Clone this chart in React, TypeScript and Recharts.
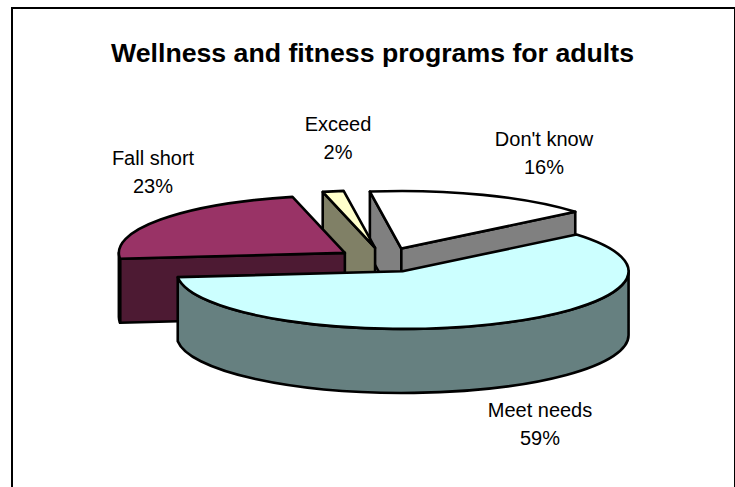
import { Pie, PieChart } from "recharts";

const categories = ["Don't know", "Meet needs", "Fall short", "Exceed"];
const shares = [16.2, 59.4, 22.9, 1.5];

// back slices first, so the big front slice covers their walls
const drawOrder = ["Don't know", "Exceed", "Fall short", "Meet needs"];

const topColors: Record<string, string> = {
  "Don't know": "#ffffff",
  "Meet needs": "#ccffff",
  "Fall short": "#993366",
  Exceed: "#ffffcc",
};
const wallColors: Record<string, string> = {
  "Don't know": "#808080",
  "Meet needs": "#668080",
  "Fall short": "#4d1a33",
  Exceed: "#808066",
};

// label centre, relative to the pie centre
const labelNudge: Record<string, [number, number]> = {
  "Don't know": [160, -114],
  "Meet needs": [156, 157],
  "Fall short": [-231, -95],
  Exceed: [-46, -129],
};

const data = categories.map((name, i) => ({ name, value: shares[i] }));

const TILT = 0.255;
const DEPTH = 64;
const EXPLODE = 48;
const LINE = { stroke: "#000000", strokeWidth: 2.6, strokeLinejoin: "round" as const };

const rad = (d: number) => (d * Math.PI) / 180;

type SliceProps = {
  cx?: number;
  cy?: number;
  outerRadius?: number;
  startAngle?: number;
  endAngle?: number;
  name?: string;
};

// the pie is flat in recharts, so squash each sector to an ellipse and extrude it
function Slice({ cx = 0, cy = 0, outerRadius = 0, startAngle = 0, endAngle = 0, name = "" }: SliceProps) {
  const t0 = 90 - startAngle;
  const t1 = 90 - endAngle;
  const mid = (t0 + t1) / 2;
  const ox = cx + EXPLODE * Math.sin(rad(mid));
  const oy = cy - EXPLODE * Math.cos(rad(mid)) * TILT;
  const rx = outerRadius;
  const ry = outerRadius * TILT;
  const at = (t: number) => `${ox + rx * Math.sin(rad(t))} ${oy - ry * Math.cos(rad(t))}`;
  const low = (t: number) => `${ox + rx * Math.sin(rad(t))} ${oy - ry * Math.cos(rad(t)) + DEPTH}`;
  const wall = (t: number) => `M${ox} ${oy}L${at(t)}L${low(t)}L${ox} ${oy + DEPTH}Z`;

  const frontFrom = Math.max(t0, 90);
  const frontTo = Math.min(t1, 270);
  const side = wallColors[name];

  return (
    <g>
      {Math.sin(rad(t0)) < 0 && <path d={wall(t0)} fill={side} {...LINE} />}
      {Math.sin(rad(t1)) > 0 && <path d={wall(t1)} fill={side} {...LINE} />}
      {frontFrom < frontTo && (
        <path
          d={`M${at(frontFrom)}A${rx} ${ry} 0 0 1 ${at(frontTo)}L${low(frontTo)}A${rx} ${ry} 0 0 0 ${low(frontFrom)}Z`}
          fill={side}
          {...LINE}
        />
      )}
      <path
        d={`M${ox} ${oy}L${at(t0)}A${rx} ${ry} 0 ${t1 - t0 > 180 ? 1 : 0} 1 ${at(t1)}Z`}
        fill={topColors[name]}
        {...LINE}
      />
    </g>
  );
}

function SliceLabel({ cx = 0, cy = 0, name = "", value = 0 }: { cx?: number; cy?: number; name?: string; value?: number }) {
  const [dx, dy] = labelNudge[name];
  return (
    <text x={cx + dx} y={cy + dy} textAnchor="middle" fontSize={20} fill="#000000" fontFamily="Liberation Sans">
      <tspan x={cx + dx} dy={0}>
        {name}
      </tspan>
      <tspan x={cx + dx} dy={28}>
        {Math.round(value)}%
      </tspan>
    </text>
  );
}

export default function App() {
  return (
    <div style={{ position: "absolute", left: 0, top: 0, width: 735, height: 487, overflow: "hidden", background: "#fff" }}>
      <div
        style={{
          position: "absolute",
          left: 11,
          top: 7,
          width: 721,
          height: 600,
          border: "2px solid #000",
        }}
      />
      <div style={{ position: "absolute", left: 0, top: 0 }}>
        <PieChart width={735} height={487} margin={{ top: 0, right: 0, bottom: 0, left: 0 }}>
          <text x={372.5} y={61.5} textAnchor="middle" fontSize={26.7} fontWeight="bold" fontFamily="Liberation Sans" fill="#000">
            Wellness and fitness programs for adults
          </text>
          {drawOrder.map((slice, i) => (
            <Pie
              key={slice}
              data={data}
              dataKey="value"
              nameKey="name"
              cx={384}
              cy={260}
              innerRadius={0}
              outerRadius={226}
              startAngle={98}
              endAngle={-262}
              isAnimationActive={false}
              labelLine={false}
              label={i === drawOrder.length - 1 ? (p: any) => <SliceLabel {...p} /> : false}
              shape={(p: any) => (p.name === slice ? <Slice {...p} /> : <g />)}
            />
          ))}
        </PieChart>
      </div>
    </div>
  );
}
